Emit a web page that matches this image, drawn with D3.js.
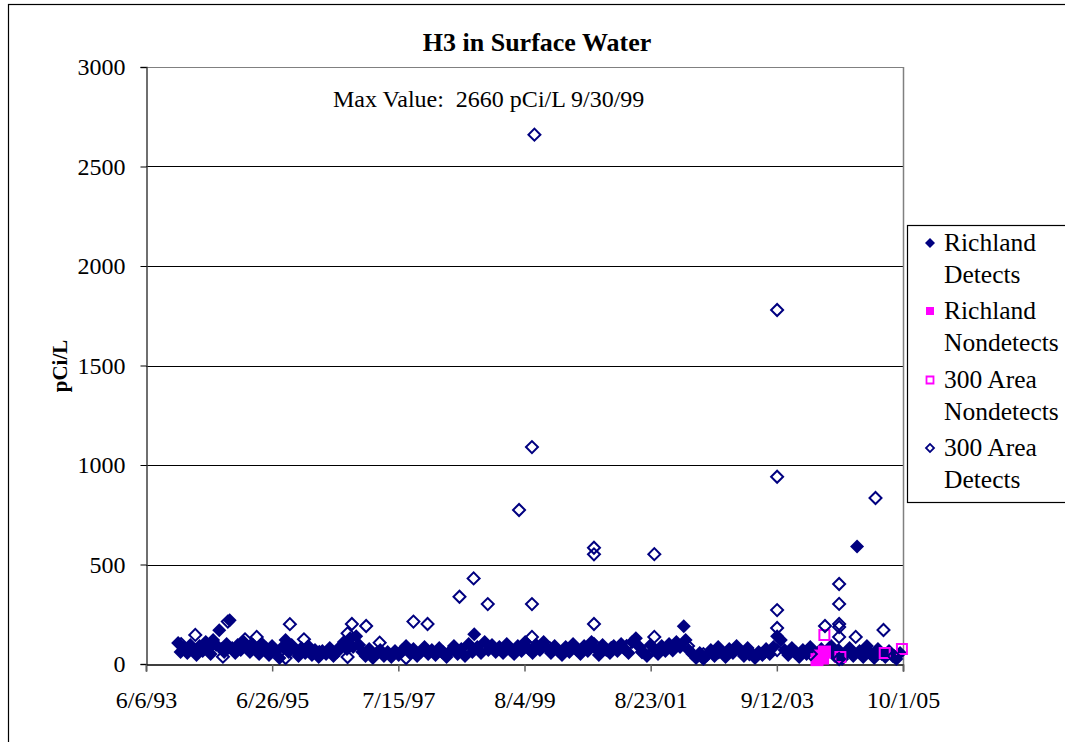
<!DOCTYPE html>
<html><head><meta charset="utf-8">
<script src="https://cdn.jsdelivr.net/npm/d3@7"></script>
<style>body{margin:0;background:#fff}svg{display:block}text{font-family:"Liberation Serif","Times New Roman",serif;white-space:pre}</style>
</head><body><svg id="c" width="1065" height="742"></svg>
<script>
// ---- data (dates as decimal years) ----
const richDetYears = [1993.95,1993.99,1994.04,1994.10,1994.15,1994.20,1994.25,1994.30,1994.35,1994.40,1994.44,1994.48,1994.52,1994.57,1994.62,1994.66,1994.70,1994.74,1994.79,1994.83,1994.88,1994.92,1994.97,1995.02,1995.07,1995.12,1995.17,1995.22,1995.27,1995.32,1995.38,1995.43,1995.48,1995.54,1995.60,1995.65,1995.70,1995.75,1995.80,1995.86,1995.91,1995.96,1996.02,1996.07,1996.13,1996.18,1996.24,1996.30,1996.36,1996.42,1996.48,1996.54,1996.60,1996.65,1996.70,1996.75,1996.80,1996.85,1996.90,1996.95,1997.00,1997.06,1997.12,1997.18,1997.24,1997.30,1997.36,1997.42,1997.48,1997.54,1997.60,1997.66,1997.72,1997.78,1997.84,1997.90,1997.96,1998.02,1998.08,1998.14,1998.20,1998.26,1998.32,1998.38,1998.44,1998.50,1998.56,1998.62,1998.68,1998.74,1998.77,1998.82,1998.88,1998.94,1999.00,1999.06,1999.12,1999.18,1999.24,1999.30,1999.36,1999.42,1999.48,1999.54,1999.60,1999.66,1999.72,1999.78,1999.84,1999.90,1999.96,2000.02,2000.08,2000.14,2000.20,2000.26,2000.32,2000.38,2000.44,2000.50,2000.56,2000.62,2000.68,2000.74,2000.80,2000.86,2000.92,2000.98,2001.04,2001.10,2001.16,2001.22,2001.28,2001.34,2001.40,2001.46,2001.52,2001.58,2001.64,2001.70,2001.76,2001.82,2001.88,2001.94,2002.00,2002.06,2002.12,2002.18,2002.21,2002.26,2002.32,2002.38,2002.44,2002.50,2002.56,2002.62,2002.68,2002.74,2002.80,2002.86,2002.92,2002.98,2003.04,2003.10,2003.16,2003.22,2003.28,2003.34,2003.40,2003.46,2003.52,2003.58,2003.64,2003.70,2003.76,2003.82,2003.88,2003.94,2004.00,2004.06,2004.12,2004.18,2004.24,2004.30,2004.36,2004.42,2004.52,2004.58,2004.64,2004.70,2004.76,2004.82,2004.88,2004.94,2005.00,2005.04,2005.10,2005.16,2005.22,2005.28,2005.34,2005.40,2005.46,2005.52,2005.58,2005.64,2005.70];
const richDetValues = [105,60,80,55,95,70,45,90,65,110,85,50,120,95,170,75,60,100,220,80,55,95,70,110,85,60,95,75,50,100,80,45,90,65,30,85,120,60,95,70,40,80,55,90,45,70,35,65,50,80,40,60,90,110,75,130,85,140,95,60,40,75,30,55,70,40,60,35,65,45,70,90,55,75,40,60,85,50,70,45,80,60,35,65,90,50,75,40,100,60,150,85,55,110,70,95,60,85,55,100,70,50,90,65,110,75,55,95,70,110,80,55,90,65,45,85,60,100,70,50,90,65,110,80,45,95,70,55,90,65,100,75,55,110,130,85,60,40,95,70,50,90,65,100,75,110,85,190,120,70,50,30,55,25,45,70,40,85,60,35,75,55,90,65,40,80,55,30,60,45,75,50,85,140,120,70,45,80,55,35,70,50,85,60,40,75,55,90,40,70,25,55,80,40,590,65,35,90,55,30,75,50,35,65,40,25,55];
const richNDYears = [2004.35,2004.40,2004.44,2004.47];
const richNDValues = [22,40,30,60];
const a300NDYears = [2004.47,2004.73,2005.45,2005.73];
const a300NDValues = [146,35,55,75];
const a300DetYears = [1994.00,1994.23,1994.45,1994.68,1994.76,1995.04,1995.23,1995.45,1995.70,1995.77,1996.00,1996.25,1996.50,1996.71,1996.71,1996.78,1997.01,1997.23,1997.45,1997.66,1997.78,1998.01,1998.25,1998.53,1998.76,1998.99,1999.25,1999.50,1999.71,1999.71,1999.71,1999.75,2000.00,2000.25,2000.50,2000.72,2000.72,2000.72,2000.72,2001.00,2001.25,2001.50,2001.70,2001.70,2002.00,2002.25,2002.50,2002.75,2003.00,2003.25,2003.50,2003.70,2003.70,2003.70,2003.70,2003.70,2004.00,2004.25,2004.48,2004.71,2004.71,2004.71,2004.71,2004.71,2004.71,2004.98,2005.20,2005.30,2005.43,2005.60];
const a300DetValues = [100,146,80,37,213,124,136,70,30,200,124,60,55,154,35,201,191,107,50,30,213,201,60,338,430,301,70,774,1090,301,136,2660,80,70,60,584,551,201,100,80,90,60,552,136,70,90,50,60,70,50,60,1779,941,271,181,70,60,50,191,402,302,201,186,136,25,136,60,834,171,40];
const yTicks = [0,500,1000,1500,2000,2500,3000];
const xTickLabels = ["6/6/93","6/26/95","7/15/97","8/4/99","8/23/01","9/12/03","10/1/05"];
const seriesNames = [["Richland","Detects"],["Richland","Nondetects"],["300 Area","Nondetects"],["300 Area","Detects"]];
const titleText = "H3 in Surface Water";
const yTitle = "pCi/L";
const noteText = "Max Value:  2660 pCi/L 9/30/99";

// ---- helpers ----
const parse = d3.timeParse("%m/%d/%y");
function yrToDate(y){const yr=Math.floor(y);const s=new Date(yr,0,1).getTime();return new Date(s+(y-yr)*365.25*86400000);}
const zip=(xs,vs)=>xs.map((x,i)=>({date:yrToDate(x),v:vs[i]}));

const NAVY="#000080", MAG="#FF00FF";
const svg=d3.select("#c");
const L=146,R=903,T=67,B=664;
const x=d3.scaleTime().domain([parse("6/6/93"),parse("10/1/05")]).range([L,R]);
const y=d3.scaleLinear().domain([0,3000]).range([B,T]);

// outer chart border
svg.append("rect").attr("x",8.5).attr("y",4.5).attr("width",1080).attr("height",780).attr("fill","none").attr("stroke","#000").attr("stroke-width",1.2);

// gridlines
svg.append("g").selectAll("line").data(yTicks.filter(d=>d>0)).join("line")
 .attr("x1",L).attr("x2",R).attr("y1",d=>Math.round(y(d))+0.5).attr("y2",d=>Math.round(y(d))+0.5)
 .attr("stroke",d=>d===3000?"#808080":"#000").attr("stroke-width",1.2);
svg.append("line").attr("x1",R+0.5).attr("x2",R+0.5).attr("y1",T).attr("y2",B).attr("stroke","#808080").attr("stroke-width",1.5);

// y axis
const yAx=svg.append("g").attr("transform",`translate(${L+0.5},0)`)
 .call(d3.axisLeft(y).tickValues(yTicks).tickSize(6).tickPadding(15).tickFormat(d3.format("d")));
yAx.select(".domain").attr("stroke","#404040").attr("stroke-width",1.5);
yAx.selectAll(".tick line").attr("stroke","#000");
yAx.selectAll("text").attr("font-size",24).attr("font-family","Liberation Serif").attr("fill","#000");

// x axis
const xTickDates=xTickLabels.map(parse);
const xAx=svg.append("g").attr("transform",`translate(0,${B+0.5})`)
 .call(d3.axisBottom(x).tickValues(xTickDates).tickSize(7).tickPadding(19).tickFormat((d,i)=>xTickLabels[i]));
xAx.select(".domain").attr("stroke","#000").attr("stroke-width",1.5);
xAx.selectAll(".tick line").attr("stroke","#606060").attr("stroke-width",1.5);
xAx.selectAll("text").attr("font-size",24).attr("font-family","Liberation Serif").attr("fill","#000");

// series
const sq=(s)=>d3.symbol(d3.symbolSquare,s*s)();
const dia=(h)=>d3.symbol(d3.symbolSquare,2*h*h)();
const g=svg.append("g");
g.selectAll(".rd").data(zip(richDetYears,richDetValues)).join("path")
 .attr("d",dia(7)).attr("transform",d=>`translate(${x(d.date)},${y(d.v)}) rotate(45)`).attr("fill",NAVY);
g.selectAll(".rn").data(zip(richNDYears,richNDValues)).join("path")
 .attr("d",sq(13)).attr("transform",d=>`translate(${x(d.date)},${y(d.v)})`).attr("fill",MAG);
g.selectAll(".an").data(zip(a300NDYears,a300NDValues)).join("path")
 .attr("d",sq(10)).attr("transform",d=>`translate(${x(d.date)},${y(d.v)})`).attr("fill","none").attr("stroke",MAG).attr("stroke-width",2);
g.selectAll(".ad").data(zip(a300DetYears,a300DetValues)).join("path")
 .attr("d",dia(6)).attr("transform",d=>`translate(${x(d.date)},${y(d.v)}) rotate(45)`).attr("fill","none").attr("stroke",NAVY).attr("stroke-width",2);

// title, annotation, y title
svg.append("text").attr("x",537).attr("y",51).attr("text-anchor","middle").attr("font-size",26).attr("font-weight","bold").text(titleText);
svg.append("text").attr("x",333).attr("y",107).attr("font-size",24).text(noteText);
svg.append("text").attr("transform","translate(67,366) rotate(-90)").attr("text-anchor","middle").attr("font-size",21).attr("font-weight","bold").text(yTitle);

// legend
const lg=svg.append("g");
lg.append("rect").attr("x",907.5).attr("y",225.5).attr("width",200).attr("height",277).attr("fill","#fff").attr("stroke","#000").attr("stroke-width",1.2);
const ly=[243,311,380,448];
seriesNames.forEach((nm,i)=>{
  const cy=ly[i], cx=930;
  let p=lg.append("path").attr("transform",`translate(${cx},${cy})`+(i===0||i===3?" rotate(45)":""));
  if(i===0) p.attr("d",dia(5)).attr("fill",NAVY);
  if(i===1) p.attr("d",sq(8)).attr("fill",MAG);
  if(i===2) p.attr("d",sq(7)).attr("fill","#fff").attr("stroke",MAG).attr("stroke-width",1.8);
  if(i===3) p.attr("d",dia(4)).attr("fill","#fff").attr("stroke",NAVY).attr("stroke-width",1.8);
  lg.append("text").attr("x",944).attr("y",cy+8).attr("font-size",25.5).text(nm[0]);
  lg.append("text").attr("x",944).attr("y",cy+40).attr("font-size",25.5).text(nm[1]);
});
</script></body></html>
